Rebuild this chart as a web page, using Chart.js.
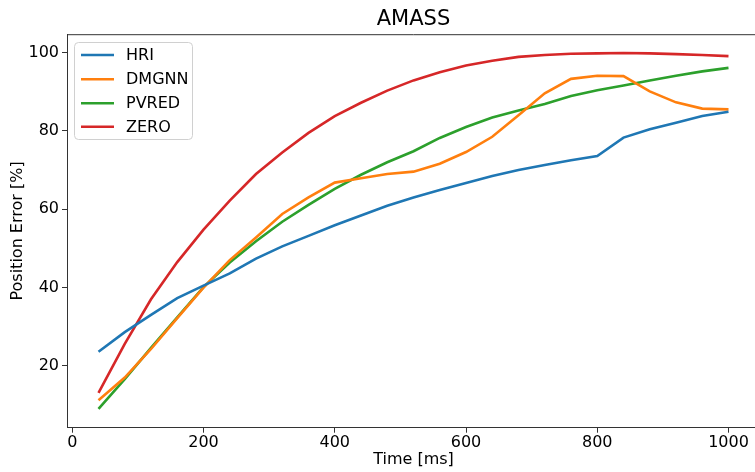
<!DOCTYPE html>
<html>
<head>
<meta charset="utf-8">
<script src="https://cdn.jsdelivr.net/npm/chart.js@4"></script>
<style>
html,body{margin:0;padding:0;background:#fff;overflow:hidden;}
#wrap{width:755px;height:472px;overflow:hidden;position:relative;}
canvas{display:block;}
</style>
</head>
<body>
<div id="wrap"><canvas id="c" width="762" height="472"></canvas></div>
<script>
const times = [40,80,120,160,200,240,280,320,360,400,440,480,520,560,600,640,680,720,760,800,840,880,920,960,1000];
const hri   = [23.6,28.6,33.0,37.3,40.5,43.6,47.4,50.5,53.2,55.9,58.4,60.9,63.0,64.9,66.7,68.5,70.0,71.3,72.5,73.6,78.3,80.4,82.1,83.8,84.9];
const dmgnn = [11.2,17.0,24.3,32.2,40.0,47.0,52.8,58.8,63.0,66.8,67.9,69.0,69.6,71.6,74.6,78.5,84.0,89.6,93.3,94.1,94.0,90.1,87.3,85.7,85.5];
const pvred = [9.0,16.6,24.6,32.4,40.1,46.4,51.8,56.8,61.1,65.2,68.8,72.0,74.8,78.2,81.0,83.4,85.2,86.9,88.9,90.4,91.6,92.9,94.1,95.2,96.1];
const zero  = [13.1,25.6,37.0,46.5,54.8,62.2,69.0,74.5,79.5,83.8,87.2,90.3,92.9,95.0,96.7,97.9,98.9,99.4,99.7,99.8,99.9,99.8,99.6,99.4,99.1];
const seriesNames = ['HRI','DMGNN','PVRED','ZERO'];
const seriesColors = ['#1f77b4','#ff7f0e','#2ca02c','#d62728'];
const xTicks = [0,200,400,600,800,1000];
const yTicks = [20,40,60,80,100];
const titleText = 'AMASS';
const xLabel = 'Time [ms]';
const yLabel = 'Position Error [%]';

const FONT = "'DejaVu Sans', sans-serif";
const allSeries = [hri, dmgnn, pvred, zero];
const datasets = allSeries.map((s, i) => ({
  label: seriesNames[i],
  data: s.map((v, j) => ({x: times[j], y: v})),
  borderColor: seriesColors[i],
  backgroundColor: seriesColors[i],
  borderWidth: 2.6,
  pointRadius: 0,
  tension: 0,
  fill: false
}));

const framePlugin = {
  id: 'frame',
  afterDatasetsDraw(chart) {
    const {ctx, chartArea: a} = chart;
    ctx.save();
    ctx.strokeStyle = '#333';
    ctx.lineWidth = 1;
    ctx.beginPath();
    ctx.moveTo(a.left, a.top + 0.5);
    ctx.lineTo(a.right, a.top + 0.5);
    ctx.moveTo(a.right - 0.5, a.top);
    ctx.lineTo(a.right - 0.5, a.bottom);
    ctx.stroke();
    ctx.restore();
  },
  afterDraw(chart) {
    const {ctx} = chart;
    const bx = 74.5, by = 42.5, bw = 118, bh = 97, r = 4;
    ctx.save();
    ctx.beginPath();
    ctx.moveTo(bx + r, by);
    ctx.lineTo(bx + bw - r, by);
    ctx.arcTo(bx + bw, by, bx + bw, by + r, r);
    ctx.lineTo(bx + bw, by + bh - r);
    ctx.arcTo(bx + bw, by + bh, bx + bw - r, by + bh, r);
    ctx.lineTo(bx + r, by + bh);
    ctx.arcTo(bx, by + bh, bx, by + bh - r, r);
    ctx.lineTo(bx, by + r);
    ctx.arcTo(bx, by, bx + r, by, r);
    ctx.closePath();
    ctx.fillStyle = 'rgba(255,255,255,0.8)';
    ctx.fill();
    ctx.strokeStyle = '#d0d0d0';
    ctx.lineWidth = 1;
    ctx.stroke();
    const rows = [55, 79.3, 103.3, 126.7];
    chart.data.datasets.forEach((ds, i) => {
      const y = rows[i];
      ctx.strokeStyle = ds.borderColor;
      ctx.lineWidth = 2.6;
      ctx.beginPath();
      ctx.moveTo(81, y);
      ctx.lineTo(114, y);
      ctx.stroke();
      ctx.fillStyle = '#000';
      ctx.font = '16px ' + FONT;
      ctx.textBaseline = 'middle';
      ctx.textAlign = 'left';
      ctx.fillText(ds.label, 126, y + 1);
    });
    ctx.restore();
  }
};

new Chart(document.getElementById('c'), {
  type: 'line',
  data: {datasets},
  options: {
    responsive: false,
    animation: false,
    devicePixelRatio: 1,
    layout: {padding: {left: 0, right: 2, top: 0, bottom: 0}},
    plugins: {
      legend: {display: false},
      tooltip: {enabled: false},
      title: {
        display: true,
        fullSize: false,
        text: titleText,
        color: '#000',
        font: {family: FONT, size: 21, weight: 'normal'},
        padding: {top: 7, bottom: 2}
      }
    },
    scales: {
      x: {
        type: 'linear',
        min: -8,
        max: 1048,
        afterBuildTicks(scale) { scale.ticks = xTicks.map(v => ({value: v})); },
        afterFit(scale) { scale.height = 44.3; },
        ticks: {color: '#000', font: {family: FONT, size: 16}, padding: 1, maxRotation: 0, includeBounds: false,
                callback: v => String(v)},
        grid: {display: true, drawOnChartArea: false, drawTicks: true, tickLength: 5, color: '#333', tickWidth: 1},
        border: {display: true, color: '#333', width: 1},
        title: {display: true, text: xLabel, color: '#000', font: {family: FONT, size: 16}, padding: {top: 0, bottom: 3}}
      },
      y: {
        type: 'linear',
        min: 4.2,
        max: 104.7,
        afterBuildTicks(scale) { scale.ticks = yTicks.map(v => ({value: v})); },
        afterFit(scale) { scale.width = 67; },
        ticks: {color: '#000', font: {family: FONT, size: 16}, padding: 3, includeBounds: false,
                callback: v => String(v)},
        grid: {display: true, drawOnChartArea: false, drawTicks: true, tickLength: 5, color: '#333', tickWidth: 1},
        border: {display: true, color: '#333', width: 1},
        title: {display: true, text: yLabel, color: '#000', font: {family: FONT, size: 16}, padding: {top: 8, bottom: 0}}
      }
    }
  },
  plugins: [framePlugin]
});
</script>
</body>
</html>
